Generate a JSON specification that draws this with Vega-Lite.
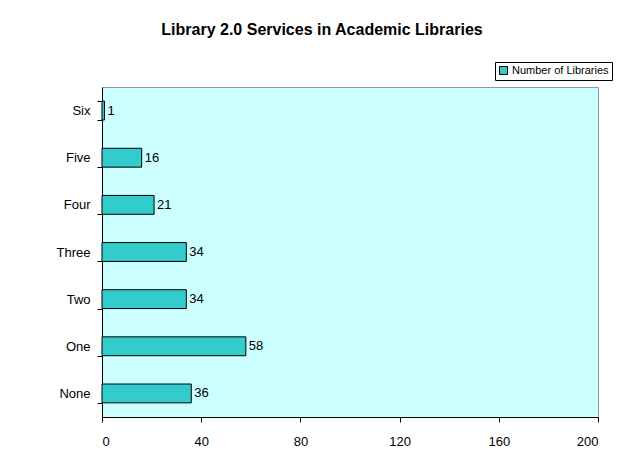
{
  "$schema": "https://vega.github.io/schema/vega-lite/v6.json",
  "autosize": "none",
  "width": 496,
  "height": 330,
  "padding": {"left": 102, "top": 87, "right": 20, "bottom": 37},
  "background": "white",
  "title": {
    "text": "Library 2.0 Services in Academic Libraries",
    "font": "Liberation Sans",
    "fontSize": 16,
    "fontWeight": "bold",
    "color": "black",
    "anchor": "middle",
    "frame": "group",
    "dx": -28,
    "offset": 24
  },
  "data": {
    "values": [
      {"category": "Six", "count": 1, "series": "Number of Libraries"},
      {"category": "Five", "count": 16, "series": "Number of Libraries"},
      {"category": "Four", "count": 21, "series": "Number of Libraries"},
      {"category": "Three", "count": 34, "series": "Number of Libraries"},
      {"category": "Two", "count": 34, "series": "Number of Libraries"},
      {"category": "One", "count": 58, "series": "Number of Libraries"},
      {"category": "None", "count": 36, "series": "Number of Libraries"}
    ]
  },
  "encoding": {
    "y": {
      "field": "category",
      "type": "nominal",
      "sort": null,
      "scale": {"paddingInner": 0.6, "paddingOuter": 0.3},
      "axis": {
        "title": null,
        "tickBand": "extent",
        "tickSize": 5,
        "tickColor": "black",
        "domainColor": "black",
        "labelFont": "Liberation Sans",
        "labelFontSize": 13,
        "labelColor": "black",
        "labelPadding": 7
      }
    },
    "x": {
      "field": "count",
      "type": "quantitative",
      "scale": {"domain": [0, 200], "nice": false},
      "axis": {
        "title": null,
        "values": [0, 40, 80, 120, 160, 200],
        "grid": false,
        "tickSize": 5,
        "tickColor": "black",
        "domainColor": "black",
        "labelFont": "Liberation Sans",
        "labelFontSize": 13,
        "labelColor": "black",
        "labelPadding": 13
      }
    }
  },
  "layer": [
    {
      "mark": {"type": "bar", "stroke": "black", "strokeWidth": 1},
      "encoding": {
        "color": {
          "field": "series",
          "type": "nominal",
          "scale": {"range": ["#33CCCC"]},
          "legend": {
            "title": null,
            "orient": "none",
            "legendX": 393,
            "legendY": -25,
            "symbolType": "square",
            "symbolSize": 64,
            "symbolStrokeColor": "black",
            "symbolStrokeWidth": 1,
            "labelFont": "Liberation Sans",
            "labelFontSize": 11,
            "labelColor": "black",
            "labelOffset": 3,
            "strokeColor": "black",
            "padding": 3,
            "fillColor": "white"
          }
        }
      }
    },
    {
      "mark": {"type": "text", "align": "left", "baseline": "middle", "dx": 3, "font": "Liberation Sans", "fontSize": 13, "color": "black"},
      "encoding": {"text": {"field": "count", "type": "quantitative"}}
    }
  ],
  "config": {
    "view": {"fill": "#CCFFFF", "stroke": "#8C9C9C", "strokeWidth": 1}
  }
}
